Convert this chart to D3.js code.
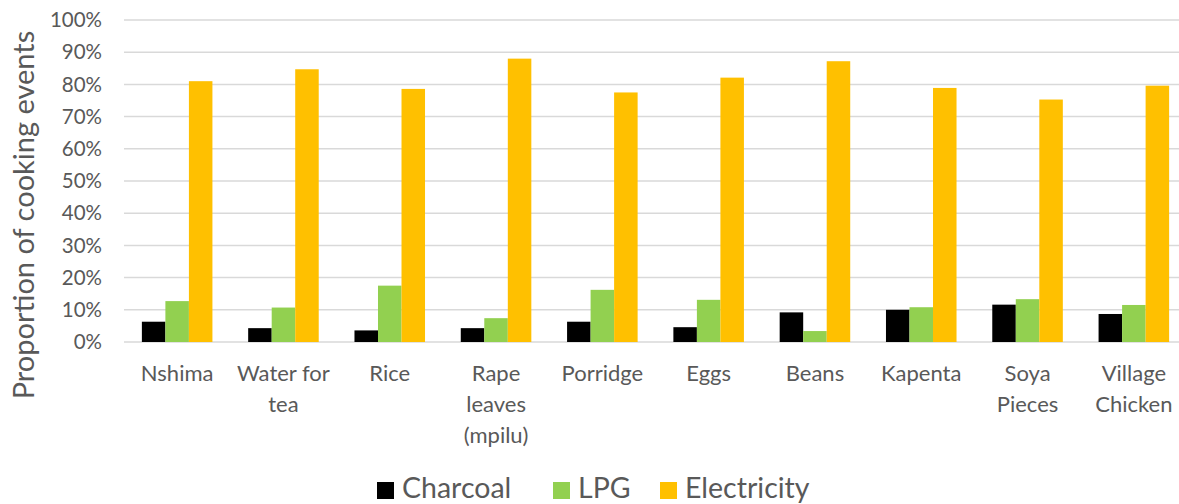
<!DOCTYPE html>
<html>
<head>
<meta charset="utf-8">
<script src="https://cdn.jsdelivr.net/npm/d3@7"></script>
<style>
  body { margin: 0; background: #fff; }
  text { font-family: Lato, "Open Sans", sans-serif; fill: #595959; }
</style>
</head>
<body>
<svg id="chart"></svg>
<script>
// Share of cooking events by fuel, per dish

const categories = ["Nshima", "Water for\ntea", "Rice", "Rape\nleaves\n(mpilu)", "Porridge",
    "Eggs", "Beans", "Kapenta", "Soya\nPieces", "Village\nChicken"];
const series = ["Charcoal", "LPG", "Electricity"];
const colors = ["#000000", "#92D050", "#FFC000"];

const charcoal = [6.3, 4.3, 3.6, 4.3, 6.3, 4.6, 9.2, 10.0, 11.6, 8.7];
const lpg = [12.7, 10.7, 17.5, 7.4, 16.2, 13.1, 3.4, 10.8, 13.3, 11.5];
const electricity = [81.0, 84.7, 78.6, 88.0, 77.5, 82.1, 87.2, 78.9, 75.3, 79.6];
const values = [charcoal, lpg, electricity];

const yTicks = [0, 10, 20, 30, 40, 50, 60, 70, 80, 90, 100];

const width = 1179;
const height = 504;

const svg = d3.select("#chart")
    .attr("width", width)
    .attr("height", height);

const x = d3.scaleBand()
    .domain(categories)
    .range([124, 1187]);

const xSeries = d3.scaleBand()
    .domain(series)
    .range([0, x.bandwidth()])
    .paddingOuter(0.76);

const y = d3.scaleLinear()
    .domain([0, 100])
    .range([342, 20]);

// gridlines
svg.append("g")
    .selectAll("line")
    .data(yTicks)
    .enter().append("line")
    .attr("x1", 124)
    .attr("x2", width)
    .attr("y1", d => y(d))
    .attr("y2", d => y(d))
    .attr("stroke", "#D9D9D9")
    .attr("stroke-width", 1.5);

// y tick labels
svg.append("g")
    .selectAll("text")
    .data(yTicks)
    .enter().append("text")
    .attr("x", 102)
    .attr("y", d => y(d))
    .attr("dy", "0.35em")
    .attr("text-anchor", "end")
    .style("font-size", "20.5px")
    .text(d => d + "%");

// bars
series.forEach((s, si) => {
    svg.append("g")
        .selectAll("rect")
        .data(categories.map((c, i) => ({ cat: c, v: values[si][i] })))
        .enter().append("rect")
        .attr("x", d => x(d.cat) + xSeries(s))
        .attr("y", d => y(d.v))
        .attr("width", xSeries.bandwidth())
        .attr("height", d => y(0) - y(d.v))
        .attr("fill", colors[si]);
});

// category labels
const catLabels = svg.append("g")
    .selectAll("text")
    .data(categories)
    .enter().append("text")
    .attr("text-anchor", "middle")
    .style("font-size", "22px")
    .attr("transform", d => `translate(${x(d) + x.bandwidth() / 2},381)`);

catLabels.selectAll("tspan")
    .data(d => d.split("\n"))
    .enter().append("tspan")
    .attr("x", 0)
    .attr("y", (d, i) => i * 31)
    .text(d => d);

// y axis title
svg.append("text")
    .attr("transform", "translate(34,215) rotate(-90)")
    .attr("text-anchor", "middle")
    .style("font-size", "29px")
    .text("Proportion of cooking events");

// legend
const legendX = [377, 553, 660];
const legend = svg.append("g")
    .selectAll("g")
    .data(series)
    .enter().append("g")
    .attr("transform", (d, i) => `translate(${legendX[i]},482)`);

legend.append("rect")
    .attr("width", 17)
    .attr("height", 17)
    .attr("fill", (d, i) => colors[i]);

legend.append("text")
    .attr("x", 25)
    .attr("y", 16)
    .style("font-size", "28.5px")
    .text(d => d);
</script>
</body>
</html>
